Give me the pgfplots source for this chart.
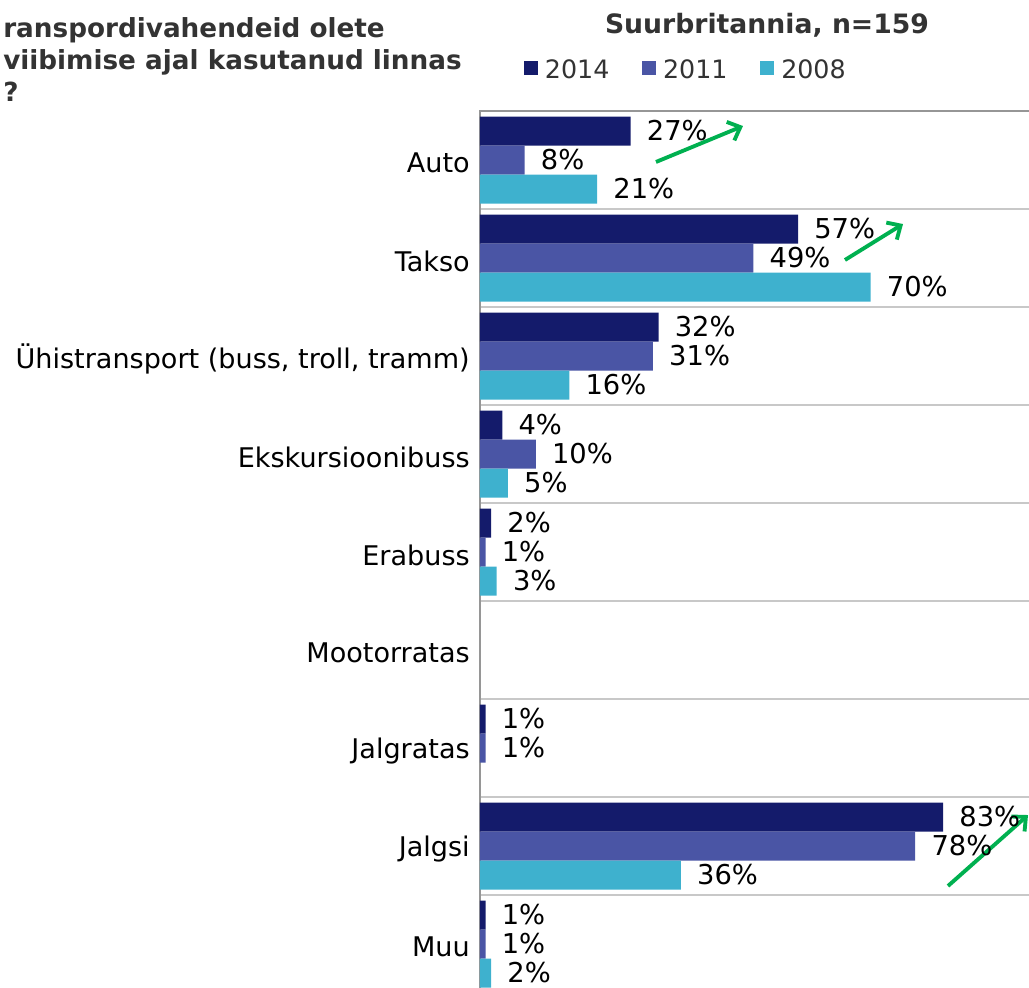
\documentclass[border=0pt]{standalone}
\usepackage{fontspec}
\setmainfont{DejaVu Sans}
\usepackage{pgfplots}
\usepackage{pgfplotstable}
\pgfplotsset{compat=1.18}
\usetikzlibrary{arrows.meta}
\definecolor{cA}{RGB}{20,27,107}
\definecolor{cB}{RGB}{74,85,165}
\definecolor{cC}{RGB}{62,177,206}
\definecolor{agreen}{RGB}{0,176,80}
\definecolor{txtgray}{RGB}{51,51,51}
\definecolor{gridgray}{RGB}{200,200,200}
\definecolor{axgray}{RGB}{150,150,150}

% y: Auto=8 ... Muu=0
\pgfplotstableread{
x y
27 8
57 7
32 6
4 5
2 4
1 2
83 1
1 0
}\dataA
\pgfplotstableread{
x y
8 8
49 7
31 6
10 5
1 4
1 2
78 1
1 0
}\dataB
\pgfplotstableread{
x y
21 8
70 7
16 6
5 5
3 4
36 1
2 0
}\dataC

\begin{document}
\begin{tikzpicture}
\useasboundingbox (0,0) rectangle (771.75pt,-741pt);
\clip (0,0) rectangle (771.75pt,-741pt);
\node[anchor=base, inner sep=0pt, font=\fontsize{20}{24}\selectfont\bfseries, text=txtgray] at (575.25pt,-25.5pt) {Suurbritannia, n=159};
\node[anchor=base west, inner sep=0pt, font=\fontsize{19.7}{24}\selectfont\bfseries, text=txtgray] at (2.25pt,-27.8pt) {ranspordivahendeid olete};
\node[anchor=base west, inner sep=0pt, font=\fontsize{19.7}{24}\selectfont\bfseries, text=txtgray] at (2.25pt,-52.5pt) {viibimise ajal kasutanud linnas};
\node[anchor=base west, inner sep=0pt, font=\fontsize{19.7}{24}\selectfont\bfseries, text=txtgray] at (2.25pt,-76.3pt) {?};
\begin{axis}[
  at={(360pt,-744.75pt)}, anchor=south west,
  scale only axis, width=418.5pt, height=661.5pt,
  xmin=0, xmax=100, ymin=-0.5, ymax=8.5,
  enlargelimits=false,
  xbar, bar width=21.75pt,
  xtick=\empty,
  ytick={0,1,2,3,4,5,6,7,8},
  yticklabels={Muu,Jalgsi,Jalgratas,Mootorratas,Erabuss,Ekskursioonibuss,{Ühistransport (buss, troll, tramm)},Takso,Auto},
  yticklabel style={font=\fontsize{20.3}{24}\selectfont, text=black, inner sep=0pt, xshift=-7.5pt, yshift=-2.25pt},
  minor ytick={-0.5,0.5,1.5,2.5,3.5,4.5,5.5,6.5,7.5,8.5},
  yminorgrids=true, ymajorgrids=false,
  minor grid style={gridgray, line width=1.5pt},
  major tick length=0pt, minor tick length=0pt,
  axis line style={axgray, line width=1.5pt},
  /pgf/number format/assume math mode=true,
  point meta=x,
  nodes near coords={\pgfmathprintnumber{\pgfplotspointmeta}\%},
  nodes near coords style={font=\fontsize{20.5}{24}\selectfont, text=black, inner sep=0pt, anchor=west, xshift=12pt},
  legend image code/.code={\fill[#1] (0pt,-3.55pt) rectangle (10.5pt,6.95pt);},
  legend columns=3,
  legend style={at={(0.07885,1.04649)}, anchor=west, draw=none, fill=none, inner sep=0pt, outer sep=0pt,
    font=\fontsize{19}{22}\selectfont, text=txtgray, nodes={inner sep=0pt},
    /tikz/every odd column/.style={column sep=5.25pt},
    /tikz/every even column/.style={column sep=24.5pt}},
]
\addplot[fill=cA, draw=none, bar shift=21.75pt, forget plot] table[x=x,y=y] {\dataA};
\addplot[fill=cB, draw=none, bar shift=0pt, forget plot] table[x=x,y=y] {\dataB};
\addplot[fill=cC, draw=none, bar shift=-21.75pt, forget plot] table[x=x,y=y] {\dataC};
\addlegendimage{fill=cA, draw=none}
\addlegendentry{2014}
\addlegendimage{fill=cB, draw=none}
\addlegendentry{2011}
\addlegendimage{fill=cC, draw=none}
\addlegendentry{2008}
\draw[agreen, line width=2.9pt, -{Straight Barb[length=8pt,width=15pt]}] (axis cs:31.54,7.980) -- (axis cs:47.13,8.347);
\draw[agreen, line width=2.9pt, -{Straight Barb[length=8pt,width=15pt]}] (axis cs:65.41,6.980) -- (axis cs:75.81,7.347);
\draw[agreen, line width=2.9pt, -{Straight Barb[length=8pt,width=15pt]}] (axis cs:83.87,0.592) -- (axis cs:98.21,1.316);
\end{axis}
\end{tikzpicture}
\end{document}
